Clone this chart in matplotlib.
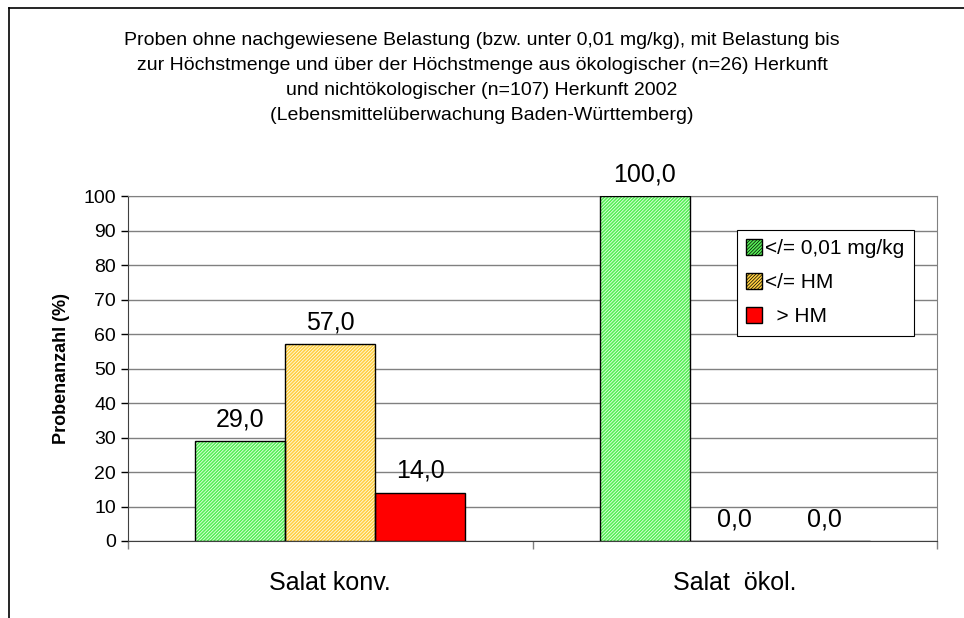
import matplotlib
matplotlib.use('Agg')
import matplotlib.pyplot as plt
import numpy as np
from matplotlib.lines import Line2D
from matplotlib.patches import Patch

plt.rcParams['font.family'] = ['Liberation Sans', 'DejaVu Sans']
plt.rcParams['hatch.linewidth'] = 0.5

# Daten
kategorien = ['Salat konv.', 'Salat  ökol.']
serien = ['</= 0,01 mg/kg', '</= HM', '  > HM']
unter_001 = [29.0, 100.0]
bis_hm = [57.0, 0.0]
ueber_hm = [14.0, 0.0]
werte = [unter_001, bis_hm, ueber_hm]
farben = ['#55f055', '#ffd040', '#ff0000']
muster = ['//////////', '//////////', None]

titel = ('Proben ohne nachgewiesene Belastung (bzw. unter 0,01 mg/kg), mit Belastung bis\n'
         'zur Höchstmenge und über der Höchstmenge aus ökologischer (n=26) Herkunft\n'
         'und nichtökologischer (n=107) Herkunft 2002\n'
         '(Lebensmittelüberwachung Baden-Württemberg)')

fig = plt.figure(figsize=(9.64, 6.18), dpi=100)
ax = fig.add_axes([0.1328, 0.1246, 0.972 - 0.1328, 0.6828 - 0.1246])

x = np.arange(len(kategorien))
breite = 1 / 4.5
for i, (w, f, m, s) in enumerate(zip(werte, farben, muster, serien)):
    pos = x + (i - 1) * breite
    # Füllung mit weißem Muster, danach schwarzer Rand
    ax.bar(pos, w, width=breite, color=f, hatch=m, edgecolor='white',
           linewidth=0, zorder=3)
    bars = ax.bar(pos, w, width=breite, fill=False, edgecolor='black',
                  linewidth=1.0, zorder=4)
    for b, v in zip(bars, w):
        ax.annotate(f'{v:.1f}'.replace('.', ','), (b.get_x() + b.get_width() / 2, v),
                    xytext=(0, 7), textcoords='offset points', ha='center', va='bottom',
                    fontsize=18)

ax.set_xlim(-0.5, 1.5)
ax.set_ylim(0, 100)
ax.set_yticks(range(0, 101, 10))
ax.tick_params(axis='y', labelsize=14, direction='out', length=5, width=1)
ax.set_xticks([-0.5, 0.5, 1.5])
ax.set_xticklabels([])
ax.tick_params(axis='x', direction='out', length=6, width=1, color='#808080')
for k, lab in zip(x, kategorien):
    ax.text(k, -12.3, lab, ha='center', va='center', fontsize=18)

ax.grid(axis='y', color='#808080', linewidth=1, zorder=0)
for side in ['top', 'right']:
    ax.spines[side].set_color('#808080')
ax.spines['left'].set_color('#404040')
ax.spines['bottom'].set_color('#404040')

ax.set_ylabel('Probenanzahl (%)', fontsize=13, fontweight='bold', labelpad=10)

# Legende mit Mustern
griffe = [Patch(facecolor=f, hatch=m, edgecolor='black', linewidth=1.0)
          for f, m in zip(farben, muster)]
leg = fig.legend(griffe, serien, loc='upper left', bbox_to_anchor=(0.7645, 0.628),
                 fontsize=15, handlelength=0.75, handleheight=0.75, handletextpad=0.15,
                 borderpad=0.45, labelspacing=0.72, borderaxespad=0, fancybox=False,
                 edgecolor='black', framealpha=1)
leg.get_frame().set_linewidth(0.8)

fig.text(0.5, 0.948, titel, ha='center', va='top', fontsize=14, linespacing=1.62)

# Rahmen (abgeschnitten)
fig.add_artist(Line2D([9 / 964, 9 / 964], [0, 1 - 8 / 618], color='black', linewidth=1.2))
fig.add_artist(Line2D([9 / 964, 1], [1 - 8 / 618, 1 - 8 / 618], color='black', linewidth=1.2))

fig.savefig('out.png', dpi=100)
